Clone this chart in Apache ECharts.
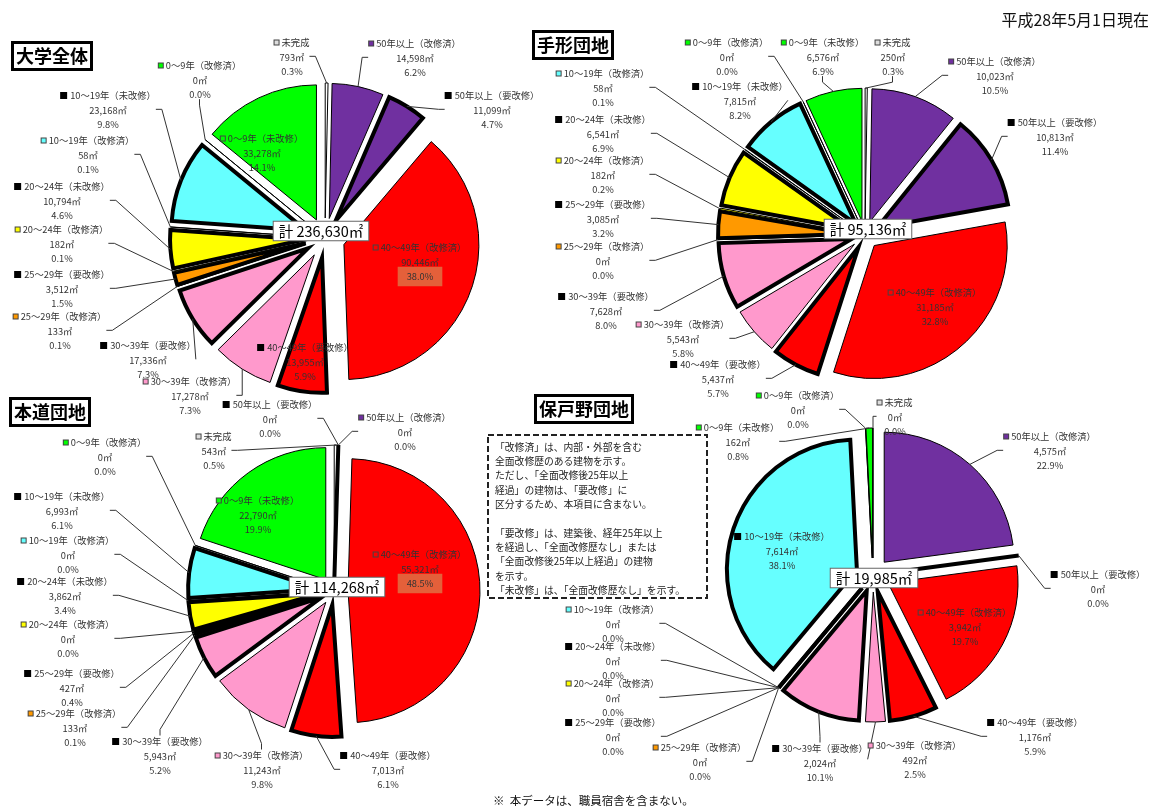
<!DOCTYPE html>
<html><head><meta charset="utf-8">
<script src="https://cdn.jsdelivr.net/npm/echarts@6/dist/echarts.min.js"></script>
<style>html,body{margin:0;padding:0;background:#fff}#c{width:1157px;height:809px}</style>
</head><body><div id="c"></div><script>
// ---------- data ----------
const categories = ['未完成','50年以上（改修済）','50年以上（要改修）','40～49年（改修済）','40～49年（要改修）','30～39年（改修済）','30～39年（要改修）','25～29年（改修済）','25～29年（要改修）','20～24年（改修済）','20～24年（未改修）','10～19年（改修済）','10～19年（未改修）','0～9年（改修済）','0～9年（未改修）'];
const daigakuValues = [793,14598,11099,90446,13955,17278,17336,133,3512,182,10794,58,23168,0,33278];
const daigakuPct = ['0.3%','6.2%','4.7%','38.0%','5.9%','7.3%','7.3%','0.1%','1.5%','0.1%','4.6%','0.1%','9.8%','0.0%','14.1%'];
const tegataValues = [250,10023,10813,31185,5437,5543,7628,0,3085,182,6541,58,7815,0,6576];
const tegataPct = ['0.3%','10.5%','11.4%','32.8%','5.7%','5.8%','8.0%','0.0%','3.2%','0.2%','6.9%','0.1%','8.2%','0.0%','6.9%'];
const hondoValues = [543,0,0,55321,7013,11243,5943,133,427,0,3862,0,6993,0,22790];
const hondoPct = ['0.5%','0.0%','0.0%','48.5%','6.1%','9.8%','5.2%','0.1%','0.4%','0.0%','3.4%','0.0%','6.1%','0.0%','19.9%'];
const hodonoValues = [0,4575,0,3942,1176,492,2024,0,0,0,0,0,7614,0,162];
const hodonoPct = ['0.0%','22.9%','0.0%','19.7%','5.9%','2.5%','10.1%','0.0%','0.0%','0.0%','0.0%','0.0%','38.1%','0.0%','0.8%'];
const pieTitles = ['大学全体','手形団地','本道団地','保戸野団地'];
const totalLabels = ['計 236,630㎡','計 95,136㎡','計 114,268㎡','計 19,985㎡'];
const dateText = '平成28年5月1日現在';
const footText = '※  本データは、職員宿舎を含まない。';
const noteLines = ['「改修済」は、内部・外部を含む','全面改修歴のある建物を示す。','ただし、「全面改修後25年以上','経過」の建物は、「要改修」に','区分するため、本項目に含まない。','','「要改修」は、建築後、経年25年以上','を経過し、「全面改修歴なし」または','「全面改修後25年以上経過」の建物','を示す。','「未改修」は、「全面改修歴なし」を示す。'];

// ---------- styles / layout ----------
const FONT = '"Noto Sans CJK JP","Noto Sans",sans-serif';
const colors = ['#ffffff','#7030a0','#7030a0','#ff0000','#ff0000','#ff99cc','#ff99cc','#ff9900','#ff9900','#ffff00','#ffff00','#66ffff','#66ffff','#00ff00','#00ff00'];
const thick = [0,0,1,0,1,0,1,0,1,0,1,0,1,0,0];
const pies = [
  {values: daigakuValues, pct: daigakuPct, center:[325,238], r:135, off:20, inside:[3,4,14], pbox:[3], total:[321,231],
   pos:[[292,57],[415,58],[492,110],[420,262],[305,362],[190,396],[148,360],[60,331],[62,289],[62,244],[62,201],[88,155],[108,110],[200,80],[262,153]]},
  {values: tegataValues, pct: tegataPct, center:[865,235], r:133, off:14, inside:[3], pbox:[], total:[868,229],
   pos:[[893,57],[995,76],[1055,137],[935,307],[718,379],[683,339],[606,311],[603,261],[603,219],[603,175],[603,134],[603,88],[740,101],[727,57],[823,57]]},
  {values: hondoValues, pct: hondoPct, center:[334,591], r:132, off:14, inside:[3,14], pbox:[3], total:[337,587],
   pos:[[214,451],[405,432],[270,419],[420,569],[388,770],[262,770],[160,756],[75,728],[72,688],[68,639],[65,596],[68,555],[62,511],[105,457],[258,515]]},
  {values: hodonoValues, pct: hodonoPct, center:[873,575], r:130, off:17, inside:[3,12], pbox:[], total:[874,578],
   pos:[[895,417],[1050,451],[1098,589],[965,627],[1035,737],[915,760],[820,763],[700,762],[613,737],[613,698],[613,661],[613,624],[782,551],[798,410],[738,442]]}
];
const titlePos = [[12,42],[533,31],[10,398],[535,395]];

function fmt(v){ return v.toLocaleString('en-US'); }

// exploded slices (no labels)
function makeSlices(p, si){
  return {
    type: 'pie', name: pieTitles[si], center: p.center, radius: p.r,
    startAngle: 90, clockwise: true,
    selectedMode: 'multiple', selectedOffset: p.off,
    emphasis: {disabled: true},
    label: {show: false}, labelLine: {show: false},
    data: categories.map((name, i) => ({
      name: name, value: p.values[i], selected: true,
      itemStyle: {color: colors[i], borderColor: '#000', borderWidth: thick[i] ? 4 : 1, borderJoin: 'miter'}
    }))
  };
}

// label carrier (transparent, reaches the outer edge of the exploded slices)
function makeLabels(p, si){
  const data = categories.map((name, i) => {
    const isIn = p.inside.indexOf(i) >= 0;
    const hasBox = p.pbox.indexOf(i) >= 0;
    const mk = thick[i] ? 'mkT' : 'mkN';
    const txt = '#333';
    return {
      name: name,
      value: p.values[i],
      itemStyle: {color: 'rgba(0,0,0,0)', borderWidth: 0},
      labelLine: {show: !isIn},
      label: {
        formatter: '{' + mk + '| }{g| }{n|' + name + '}\n{v|' + fmt(p.values[i]) + '㎡}\n{' + (hasBox ? 'pb' : 'v') + '|' + p.pct[i] + '}',
        rich: {
          mkT: {width: 7, height: 7, backgroundColor: '#000', verticalAlign: 'middle'},
          mkN: {width: 4, height: 4, backgroundColor: colors[i] === '#ffffff' ? '#dddddd' : colors[i], borderColor: '#444', borderWidth: 1, verticalAlign: 'middle'},
          g: {width: 3},
          n: {fontSize: 9.3, fontFamily: FONT, color: txt, lineHeight: 14.5},
          v: {fontSize: 9.3, fontFamily: FONT, color: txt, lineHeight: 14.5},
          pb: {fontSize: 9.3, fontFamily: FONT, color: txt, lineHeight: 14.5, backgroundColor: '#e4603a', padding: [5, 9]}
        }
      }
    };
  });
  return {
    type: 'pie', name: pieTitles[si] + '_label', center: p.center, radius: p.r + p.off,
    startAngle: 90, clockwise: true, silent: true, z: 3,
    avoidLabelOverlap: false,
    emphasis: {disabled: true},
    label: {show: true, position: 'outside', align: 'center'},
    labelLine: {show: true, length: 8, length2: 6, smooth: false, lineStyle: {color: '#333', width: 1}},
    labelLayout: function (params) {
      const q = p.pos[params.dataIndex];
      return {x: q[0], y: q[1], align: 'center', verticalAlign: 'middle'};
    },
    data: data
  };
}

const chart = echarts.init(document.getElementById('c'), null, {renderer: 'canvas'});
const graphic = [];
pies.forEach((p, i) => {
  graphic.push({type: 'text', x: p.total[0], y: p.total[1], z: 100,
    style: {text: totalLabels[i], fontSize: 14.5, fontFamily: FONT, fill: '#000', align: 'center', verticalAlign: 'middle',
      backgroundColor: '#fff', borderColor: '#666', borderWidth: 1, padding: [2, 5]}});
});
graphic.push({type: 'rect', z: 1, shape: {x: 488, y: 435, width: 219, height: 163},
  style: {fill: '#fff', stroke: '#222', lineWidth: 2, lineDash: [6, 3]}});
graphic.push({type: 'text', z: 2, x: 495, y: 440,
  style: {text: noteLines.join('\n'), fontSize: 9.8, fontFamily: FONT, fill: '#222', lineHeight: 14.3}});
graphic.push({type: 'text', z: 2, x: 1149, y: 20,
  style: {text: dateText, fontSize: 16, fontFamily: FONT, fill: '#111', align: 'right', verticalAlign: 'middle'}});
graphic.push({type: 'text', z: 2, x: 493, y: 801,
  style: {text: footText, fontSize: 11.5, fontFamily: FONT, fill: '#111', verticalAlign: 'middle'}});

const series = [];
pies.forEach((p, i) => series.push(makeSlices(p, i)));
pies.forEach((p, i) => series.push(makeLabels(p, i)));

chart.setOption({
  animation: false,
  backgroundColor: '#fff',
  title: pieTitles.map((t, i) => ({
    text: t, left: titlePos[i][0], top: titlePos[i][1],
    padding: [3, 4], borderColor: '#000', borderWidth: 3, backgroundColor: '#fff',
    textStyle: {fontSize: 18, fontWeight: 'bold', color: '#000', fontFamily: FONT, lineHeight: 22}
  })),
  graphic: graphic,
  series: series
});
</script></body></html>
